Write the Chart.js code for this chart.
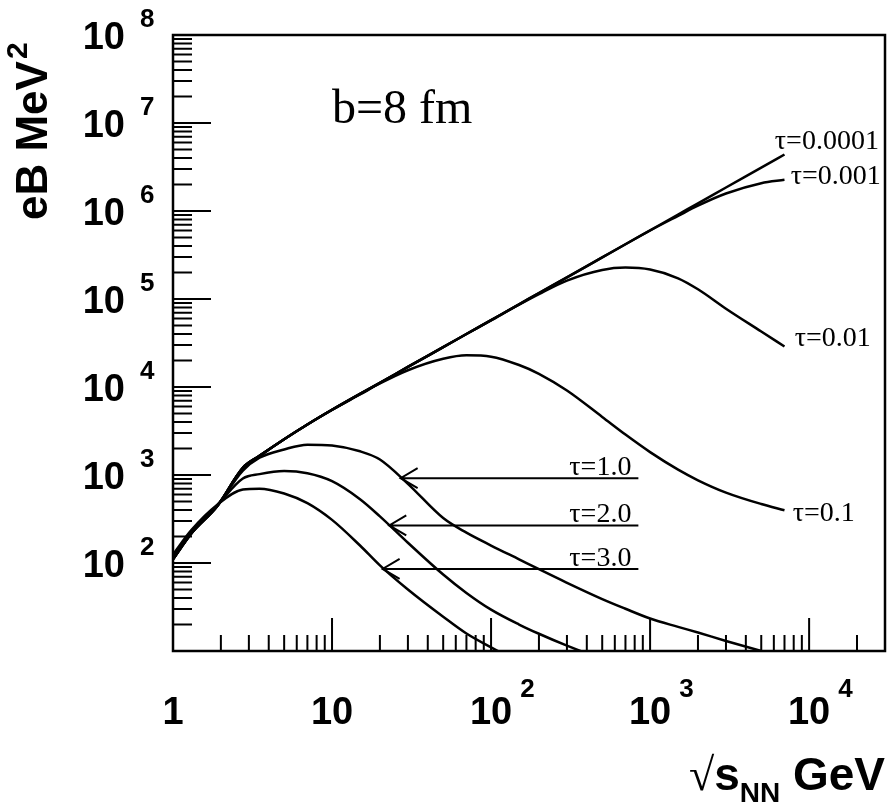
<!DOCTYPE html>
<html>
<head>
<meta charset="utf-8">
<script src="https://cdn.jsdelivr.net/npm/chart.js@4.4.1/dist/chart.umd.min.js"></script>
<style>
  html, body { margin: 0; padding: 0; background: #fff; }
  #wrap { width: 889px; height: 809px; }
</style>
</head>
<body>
<div id="wrap"><canvas id="bChart" width="889" height="809"></canvas></div>
<script>
// --- DATA: sqrt(s_NN) in GeV, eB in MeV^2 (b = 8 fm) ---
const sqrtS = [1, 1.3, 1.9, 2.75, 3.5, 5, 7, 10, 15, 20, 30, 50, 70, 100, 150, 200, 300, 500, 700, 1000, 1500, 2000, 3000, 5000, 7000];

const eB_tau00001 = [110, 215, 445, 1210, 1650, 2550, 3750, 5510, 8360, 11140, 16900, 28400, 40000, 57500, 86900, 117000, 176000, 297000, 419000, 603000, 912000, 1220000, 1850000, 3110000, 4390000];
const eB_tau0001 = [110, 215, 445, 1210, 1650, 2550, 3750, 5510, 8360, 11140, 16900, 28400, 40000, 57500, 86900, 117000, 176000, 297000, 419000, 600000, 880000, 1150000, 1580000, 2070000, 2260000];
const eB_tau001 = [110, 215, 445, 1210, 1650, 2550, 3750, 5510, 8360, 11140, 16900, 28400, 40000, 57200, 86100, 113500, 162000, 214000, 227500, 216000, 172000, 129000, 77600, 42700, 28800];
const eB_tau01 = [110, 215, 445, 1210, 1650, 2550, 3750, 5500, 8220, 10960, 15490, 20900, 22900, 22130, 17780, 14130, 9120, 4570, 2880, 1820, 1150, 871, 631, 468, 398];
const eB_tau1 = [112, 220, 450, 1120, 1570, 1950, 2210, 2160, 1860, 1500, 794, 324, 221, 158, 110, 85, 59.6, 38.9, 30.2, 23.4, 18.8, 16.2, 13.0, 10.0, 8.5];
const eB_tau2 = [118, 225, 455, 912, 1023, 1109, 1047, 851, 531, 339, 170, 74, 45.7, 29.5, 20.0, 15.7, 11.5, 8.1, 6.6, null, null, null, null, null, null];
const eB_tau3 = [125, 235, 460, 684, 700, 617, 479, 309, 158, 94, 50, 24.5, 15.8, 11.0, 7.4, null, null, null, null, null, null, null, null, null, null];

const seriesList = [eB_tau00001, eB_tau0001, eB_tau001, eB_tau01, eB_tau1, eB_tau2, eB_tau3];

// tick labels
const xTickVals = [1, 10, 100, 1000, 10000];
const xTickBase = ['1', '10', '10', '10', '10'];
const xTickExp = ['', '', '2', '3', '4'];
const yTickVals = [1e2, 1e3, 1e4, 1e5, 1e6, 1e7, 1e8];
const yTickExp = ['2', '3', '4', '5', '6', '7', '8'];

// curve labels (text + anchor in data coords)
const endLabels = ['τ=0.0001', 'τ=0.001', 'τ=0.01', 'τ=0.1'];
const endLabelPos = [[6090, 5.05e6], [7670, 2.02e6], [8130, 2.9e4], [7890, 298]];
const arrowLabels = ['τ=1.0', 'τ=2.0', 'τ=3.0'];
const arrowTips = [[27, 920], [22.9, 267], [20.8, 85.7]];
const arrowTailX = 844;

const sansFont = '"Liberation Sans", Arial, Helvetica, sans-serif';
const serifFont = '"Liberation Serif", "Times New Roman", serif';

// --- frame, inner log ticks, labels and annotations ---
const axesPlugin = {
    id: 'axesPlugin',
    afterDatasetsDraw(chart) {
        const { ctx, chartArea: a, scales } = chart;
        const xs = scales.x, ys = scales.y;
        ctx.save();
        ctx.strokeStyle = '#000';
        ctx.fillStyle = '#000';

        ctx.lineWidth = 2.5;
        ctx.strokeRect(a.left, a.top, a.right - a.left, a.bottom - a.top);

        // ticks pointing into the plot
        ctx.lineWidth = 2;
        ctx.beginPath();
        for (let e = 0; e <= 4; e++) {
            for (let m = 1; m <= 9; m++) {
                const v = m * Math.pow(10, e);
                if (v <= xs.min || v >= xs.max) continue;
                const px = xs.getPixelForValue(v);
                ctx.moveTo(px, a.bottom);
                ctx.lineTo(px, a.bottom - (m === 1 ? 33 : 16));
            }
        }
        for (let e = 1; e <= 7; e++) {
            for (let m = 1; m <= 9; m++) {
                const v = m * Math.pow(10, e);
                if (v <= ys.min || v >= ys.max) continue;
                const py = ys.getPixelForValue(v);
                ctx.moveTo(a.left, py);
                ctx.lineTo(a.left + (m === 1 ? 38 : 19), py);
            }
        }
        ctx.stroke();

        // x tick labels
        ctx.textBaseline = 'alphabetic';
        xTickVals.forEach((v, i) => {
            const px = xs.getPixelForValue(v);
            ctx.font = 'bold 38px ' + sansFont;
            ctx.textAlign = 'center';
            ctx.fillText(xTickBase[i], px, a.bottom + 73);
            if (xTickExp[i]) {
                const w = ctx.measureText(xTickBase[i]).width;
                ctx.font = 'bold 26px ' + sansFont;
                ctx.textAlign = 'left';
                ctx.fillText(xTickExp[i], px + w / 2 + 8, a.bottom + 46);
            }
        });

        // y tick labels
        yTickVals.forEach((v, i) => {
            const py = ys.getPixelForValue(v);
            ctx.font = 'bold 38px ' + sansFont;
            ctx.textAlign = 'right';
            ctx.fillText('10', a.left - 48, py + 14);
            ctx.font = 'bold 26px ' + sansFont;
            ctx.textAlign = 'left';
            ctx.fillText(yTickExp[i], a.left - 33, py - 8);
        });

        // y title
        ctx.save();
        ctx.translate(47, 220);
        ctx.rotate(-Math.PI / 2);
        ctx.font = 'bold 44px ' + sansFont;
        ctx.textAlign = 'left';
        ctx.fillText('eB MeV', 0, 0);
        const tw = ctx.measureText('eB MeV').width;
        ctx.font = 'bold 30px ' + sansFont;
        ctx.fillText('2', tw + 2, -20);
        ctx.restore();

        // x title: √s_NN GeV
        const parts = [
            { t: '√', f: '46px ' + serifFont, dy: 0 },
            { t: 's', f: 'bold 46px ' + sansFont, dy: 0 },
            { t: 'NN', f: 'bold 28px ' + sansFont, dy: 12 },
            { t: ' GeV', f: 'bold 46px ' + sansFont, dy: 0 }
        ];
        let total = 0;
        parts.forEach(p => { ctx.font = p.f; p.w = ctx.measureText(p.t).width; total += p.w; });
        let cx = a.right - total;
        ctx.textAlign = 'left';
        parts.forEach(p => { ctx.font = p.f; ctx.fillText(p.t, cx, 790 + p.dy); cx += p.w; });

        // b = 8 fm
        ctx.font = '48px ' + serifFont;
        ctx.fillText('b=8 fm', xs.getPixelForValue(10), ys.getPixelForValue(1e7));

        // labels at the curve ends
        ctx.font = '28px ' + serifFont;
        endLabels.forEach((t, i) => {
            ctx.fillText(t, xs.getPixelForValue(endLabelPos[i][0]), ys.getPixelForValue(endLabelPos[i][1]));
        });

        // arrows for tau = 1, 2, 3
        const tailPx = xs.getPixelForValue(arrowTailX);
        ctx.lineWidth = 2;
        arrowTips.forEach(([tx, ty], i) => {
            const x0 = xs.getPixelForValue(tx), y0 = ys.getPixelForValue(ty);
            ctx.beginPath();
            ctx.moveTo(tailPx, y0);
            ctx.lineTo(x0, y0);
            ctx.moveTo(x0 + 17, y0 - 10);
            ctx.lineTo(x0, y0);
            ctx.lineTo(x0 + 17, y0 + 10);
            ctx.stroke();
            ctx.font = '28px ' + serifFont;
            ctx.textAlign = 'right';
            ctx.fillText(arrowLabels[i], tailPx - 7, y0 - 3);
        });

        ctx.restore();
    }
};

const ctxB = document.getElementById('bChart').getContext('2d');

const bChart = new Chart(ctxB, {
    type: 'line',
    data: {
        datasets: seriesList.map(vals => ({
            data: sqrtS.map((s, i) => ({ x: s, y: vals[i] })),
            borderColor: '#000',
            borderWidth: 2.5,
            pointRadius: 0,
            fill: false,
            cubicInterpolationMode: 'monotone'
        }))
    },
    options: {
        responsive: false,
        animation: false,
        layout: { padding: { left: 173, top: 35, right: 4, bottom: 158 } },
        plugins: {
            legend: { display: false },
            tooltip: { enabled: false }
        },
        scales: {
            x: {
                type: 'logarithmic', min: 1, max: 30000,
                ticks: { display: false },
                grid: { display: false, drawTicks: false },
                border: { display: false }
            },
            y: {
                type: 'logarithmic', min: 10, max: 1e8,
                ticks: { display: false },
                grid: { display: false, drawTicks: false },
                border: { display: false }
            }
        }
    },
    plugins: [axesPlugin]
});
</script>
</body>
</html>
